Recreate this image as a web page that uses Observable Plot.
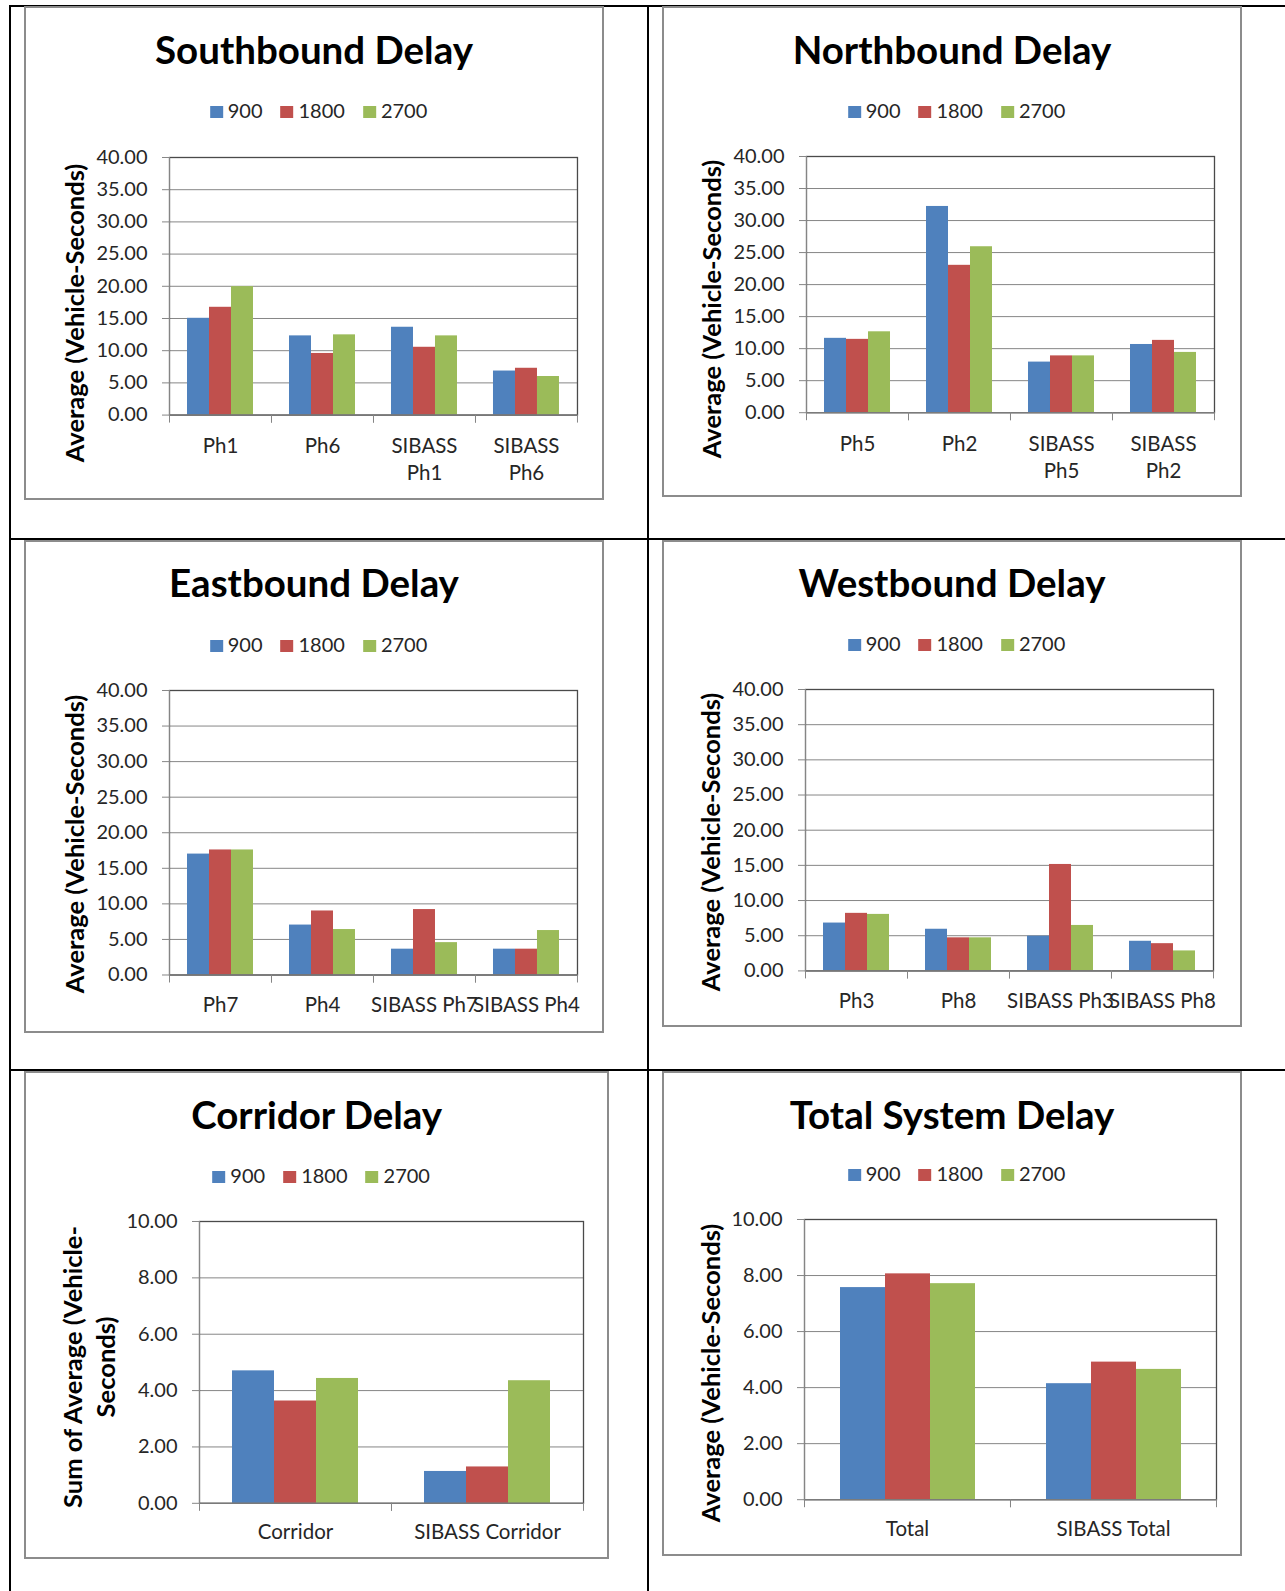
<!DOCTYPE html>
<html>
<head>
<meta charset="utf-8">
<script src="https://cdn.jsdelivr.net/npm/d3@7"></script>
<script src="https://cdn.jsdelivr.net/npm/@observablehq/plot@0.6"></script>
<style>
  body { margin: 0; background: #fff; }
  #page { position: relative; width: 1285px; height: 1591px; overflow: hidden; background: #fff; font-family: Lato, "Open Sans", sans-serif; }
  .line { position: absolute; background: #000; }
  .box { position: absolute; border: 2px solid #8c8c8c; box-sizing: border-box; background: #fff; }
  .txt { position: absolute; white-space: nowrap; line-height: 1; }
  .holder { position: absolute; }
</style>
</head>
<body>
<div id="page"></div>
<script>
// ---------- data ----------
const series = ["900", "1800", "2700"];
const seriesColors = ["#4F81BD", "#C0504D", "#9BBB59"];

const yTicks40 = [0, 5, 10, 15, 20, 25, 30, 35, 40];
const yTicks10 = [0, 2, 4, 6, 8, 10];
const yTitleAverage = ["Average (Vehicle-Seconds)"];
const yTitleSum = ["Sum of Average (Vehicle-", "Seconds)"];

const sbTitle = "Southbound Delay";
const sbCategories = ["Ph1", "Ph6", "SIBASS Ph1", "SIBASS Ph6"];
const sb900 = [15.03, 12.30, 13.64, 6.84];
const sb1800 = [16.74, 9.57, 10.53, 7.27];
const sb2700 = [19.95, 12.46, 12.30, 5.99];

const nbTitle = "Northbound Delay";
const nbCategories = ["Ph5", "Ph2", "SIBASS Ph5", "SIBASS Ph2"];
const nb900 = [11.61, 32.20, 7.90, 10.65];
const nb1800 = [11.45, 23.01, 8.87, 11.29];
const nb2700 = [12.63, 25.91, 8.87, 9.41];

const ebTitle = "Eastbound Delay";
const ebCategories = ["Ph7", "Ph4", "SIBASS Ph7", "SIBASS Ph4"];
const eb900 = [17.00, 7.02, 3.63, 3.63];
const eb1800 = [17.58, 9.00, 9.20, 3.63];
const eb2700 = [17.58, 6.39, 4.55, 6.25];

const wbTitle = "Westbound Delay";
const wbCategories = ["Ph3", "Ph8", "SIBASS Ph3", "SIBASS Ph8"];
const wb900 = [6.80, 5.92, 4.94, 4.21];
const wb1800 = [8.18, 4.70, 15.13, 3.87];
const wb2700 = [8.03, 4.70, 6.46, 2.84];

const corTitle = "Corridor Delay";
const corCategories = ["Corridor", "SIBASS Corridor"];
const cor900 = [4.70, 1.13];
const cor1800 = [3.63, 1.29];
const cor2700 = [4.43, 4.35];

const totTitle = "Total System Delay";
const totCategories = ["Total", "SIBASS Total"];
const tot900 = [7.57, 4.14];
const tot1800 = [8.06, 4.91];
const tot2700 = [7.71, 4.65];

// ---------- layout (positions / styles) ----------
const panels = [
  {title: sbTitle, cats: sbCategories, values: [sb900, sb1800, sb2700], ticks: yTicks40, yTitle: yTitleAverage, wrap: true,
   box: [24, 6, 580, 494], plot: [166.6, 578.3, 156.7, 414.3], titleY: 63.7, legendY: 117.8, yTitleAt: [73.5, 312.5], labelPad: 19},
  {title: nbTitle, cats: nbCategories, values: [nb900, nb1800, nb2700], ticks: yTicks40, yTitle: yTitleAverage, wrap: true,
   box: [662, 6, 580, 491], plot: [804.2, 1215.2, 155.7, 411.9], titleY: 63.7, legendY: 117.5, yTitleAt: [711.3, 309], labelPad: 19},
  {title: ebTitle, cats: ebCategories, values: [eb900, eb1800, eb2700], ticks: yTicks40, yTitle: yTitleAverage, wrap: false,
   box: [24, 540, 580, 493], plot: [166.6, 578.3, 690, 974.5], titleY: 597, legendY: 652, yTitleAt: [73.5, 844], labelPad: 18},
  {title: wbTitle, cats: wbCategories, values: [wb900, wb1800, wb2700], ticks: yTicks40, yTitle: yTitleAverage, wrap: false,
   box: [662, 540, 580, 486.5], plot: [803, 1214, 688.6, 970], titleY: 597, legendY: 651, yTitleAt: [710, 842], labelPad: 18},
  {title: corTitle, cats: corCategories, values: [cor900, cor1800, cor2700], ticks: yTicks10, yTitle: yTitleSum, wrap: false,
   box: [24, 1071, 585.3, 488], plot: [198.1, 583.6, 1221, 1502.8], titleY: 1129.4, legendY: 1182.5, yTitleAt: [87.8, 1366.5], labelPad: 16},
  {title: totTitle, cats: totCategories, values: [tot900, tot1800, tot2700], ticks: yTicks10, yTitle: yTitleAverage, wrap: false,
   box: [662, 1071, 580, 484.5], plot: [802.6, 1215.7, 1219.3, 1499.5], titleY: 1129.4, legendY: 1181, yTitleAt: [710, 1373], labelPad: 17}
];

const GRID = "#868686";
const DARK = "#4a4a4a";
const TEXT = "#262626";
const ASC = 0.887; // Lato baseline offset at line-height 1

const page = document.getElementById("page");

function div(cls, css) {
  const d = document.createElement("div");
  d.className = cls;
  Object.assign(d.style, css);
  page.appendChild(d);
  return d;
}

// table lines
div("line", {left: "9px", top: "4.5px", width: "1276px", height: "2px"});
div("line", {left: "9px", top: "4.5px", width: "2px", height: "1590px"});
div("line", {left: "646.8px", top: "4.5px", width: "2px", height: "1590px"});
div("line", {left: "9px", top: "538px", width: "1276px", height: "2px"});
div("line", {left: "9px", top: "1069.2px", width: "1276px", height: "2px"});

function textAt(str, cx, baseline, size, weight, color) {
  const d = div("txt", {fontSize: size + "px", fontWeight: weight, color: color,
    left: cx + "px", top: (baseline - ASC * size) + "px", transform: "translateX(-50%)"});
  d.textContent = str;
  return d;
}

function legendAt(cx, baseline, size) {
  const d = div("txt", {fontSize: size + "px", color: TEXT,
    left: cx + "px", top: (baseline - ASC * size) + "px", transform: "translateX(-50%)"});
  series.forEach((s, i) => {
    const sw = document.createElement("span");
    sw.style.cssText = `display:inline-block;width:13px;height:12px;background:${seriesColors[i]};margin-right:5px;vertical-align:baseline;`;
    const t = document.createElement("span");
    t.textContent = s;
    if (i < series.length - 1) t.style.marginRight = "18px";
    d.append(sw, t);
  });
}

function yTitleAt(lines, cx, cy, size, lh) {
  const d = div("txt", {fontSize: size + "px", fontWeight: 700, color: "#000", lineHeight: lh + "px",
    textAlign: "center", left: cx + "px", top: cy + "px", transform: "translate(-50%,-50%) rotate(-90deg)"});
  lines.forEach((l, i) => {
    if (i) d.appendChild(document.createElement("br"));
    d.appendChild(document.createTextNode(l));
  });
}

const wrapLabel = d => d.startsWith("SIBASS ") ? d.replace("SIBASS ", "SIBASS\n") : d;

for (const p of panels) {
  const [bx, by, bw, bh] = p.box;
  div("box", {left: bx + "px", top: by + "px", width: bw + "px", height: bh + "px"});
  const bcx = bx + bw / 2;
  textAt(p.title, bcx, p.titleY, 38.5, 700, "#000");
  legendAt(bcx + 4.5, p.legendY, 20);
  yTitleAt(p.yTitle, p.yTitleAt[0], p.yTitleAt[1], 25.5, 32.5);

  const rows = [];
  p.cats.forEach((c, i) => series.forEach((s, j) => rows.push({cat: c, series: s, value: p.values[j][i]})));

  const [L, R, T, B] = p.plot;
  const plotW = R - L, plotH = B - T;
  const mL = 90, mR = 12, mT = 12, mB = 80;
  const ymax = p.ticks[p.ticks.length - 1];

  const chart = Plot.plot({
    width: plotW + mL + mR,
    height: plotH + mT + mB,
    marginLeft: mL, marginRight: mR, marginTop: mT, marginBottom: mB,
    style: {background: "transparent", maxWidth: "none", overflow: "visible", fontFamily: "Lato, 'Open Sans', sans-serif"},
    fx: {domain: p.cats, padding: 0, label: null},
    x: {domain: series, paddingInner: 0, paddingOuter: 0.75, axis: null},
    y: {domain: [0, ymax], label: null},
    color: {domain: series, range: seriesColors},
    marks: [
      Plot.gridY(p.ticks, {stroke: GRID, strokeOpacity: 1}),
      Plot.barY(rows, {fx: "cat", x: "series", y: "value", fill: "series"}),
      Plot.frame({facet: "super", stroke: DARK, strokeWidth: 1.3}),
      Plot.frame({facet: "super", anchor: "left", stroke: GRID}),
      Plot.ruleY([0], {stroke: GRID}),
      Plot.frame({anchor: "left", insetTop: plotH, insetBottom: -7, stroke: GRID}),
      Plot.frame({anchor: "right", insetTop: plotH, insetBottom: -7, stroke: GRID}),
      Plot.axisY(p.ticks, {tickSize: 7, tickPadding: 15, tickFormat: d => d.toFixed(2),
        fontSize: 20, fill: TEXT, stroke: GRID, label: null}),
      Plot.axisFx({anchor: "bottom", tickSize: 0, tickPadding: p.labelPad, fontSize: 20.5, fill: TEXT, label: null,
        lineHeight: 1.32, tickFormat: p.wrap ? wrapLabel : d => d})
    ]
  });
  const h = div("holder", {left: (L - mL) + "px", top: (T - mT) + "px"});
  h.appendChild(chart);
}
</script>
</body>
</html>
